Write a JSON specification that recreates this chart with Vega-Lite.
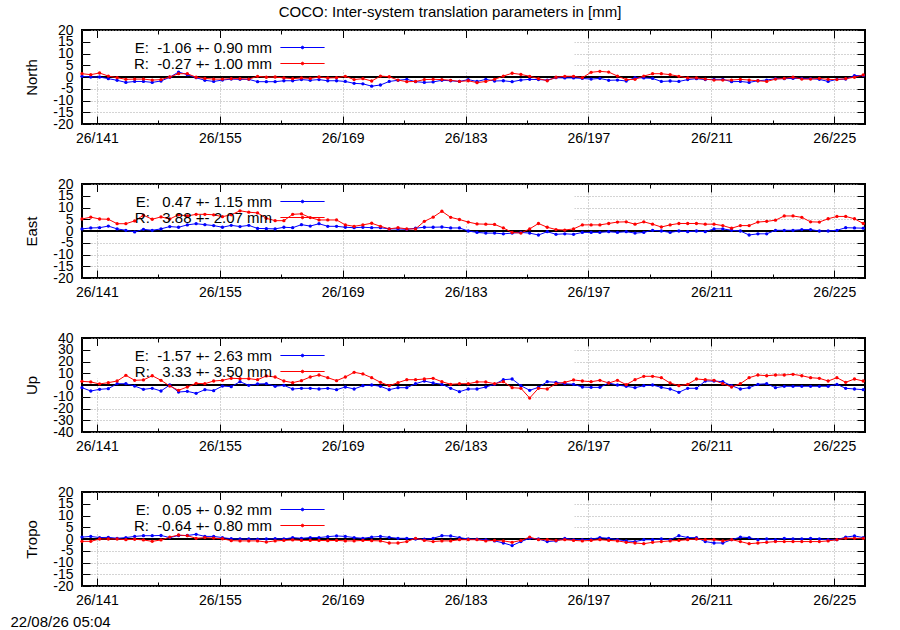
{
  "$schema": "https://vega.github.io/schema/vega-lite/v6.json",
  "padding": {"left": 9, "top": 5, "right": 5, "bottom": 5},
  "title": {"text": "COCO: Inter-system translation parameters in [mm]", "anchor": "middle", "offset": 2, "dx": 12, "fontSize": 15, "fontWeight": "normal", "font": "Liberation Sans", "color": "black"},
  "data": {"values": [
    {"d":139.3,"nE":0.3,"nR":1.4,"eE":0.9,"eR":5.1,"uE":-2.3,"uR":3.1,"tE":0.8,"tR":-1.0},
    {"d":140.3,"nE":0,"nR":1.0,"eE":1.3,"eR":5.9,"uE":-5.1,"uR":2.6,"tE":1.1,"tR":-1.0},
    {"d":141.3,"nE":0,"nR":1.7,"eE":1.4,"eR":5.1,"uE":-3.7,"uR":0.9,"tE":0.6,"tR":0},
    {"d":142.3,"nE":-0.7,"nR":0.4,"eE":2.1,"eR":5.0,"uE":-3.1,"uR":2.0,"tE":0.7,"tR":0},
    {"d":143.3,"nE":-1.4,"nR":-0.3,"eE":0.9,"eR":3.1,"uE":1.1,"uR":3.4,"tE":0.3,"tR":0},
    {"d":144.3,"nE":-2.3,"nR":-1.0,"eE":0.3,"eR":3.1,"uE":1.1,"uR":8.2,"tE":0.6,"tR":-0.3},
    {"d":145.3,"nE":-1.9,"nR":-0.9,"eE":-0.4,"eR":4.3,"uE":-0.9,"uR":4.0,"tE":1.1,"tR":-0.1},
    {"d":146.3,"nE":-1.9,"nR":-0.9,"eE":0.7,"eR":6.7,"uE":-3.7,"uR":4.3,"tE":1.4,"tR":-0.4},
    {"d":147.3,"nE":-2.3,"nR":-1.3,"eE":0.3,"eR":5.0,"uE":-2.8,"uR":7.9,"tE":1.4,"tR":-1.0},
    {"d":148.3,"nE":-1.7,"nR":-1.1,"eE":0.9,"eR":6.0,"uE":-5.1,"uR":4.0,"tE":1.5,"tR":-0.4},
    {"d":149.3,"nE":-0.1,"nR":0,"eE":1.9,"eR":5.1,"uE":0,"uR":-0.9,"tE":0.6,"tR":0.8},
    {"d":150.3,"nE":2.1,"nR":1.4,"eE":1.6,"eR":6.9,"uE":-6.0,"uR":-4.5,"tE":1.5,"tR":1.7},
    {"d":151.3,"nE":1.0,"nR":1.4,"eE":2.6,"eR":6.4,"uE":-5.4,"uR":-1.7,"tE":1.5,"tR":1.4},
    {"d":152.3,"nE":-0.3,"nR":-0.1,"eE":3.1,"eR":7.1,"uE":-7.1,"uR":1.4,"tE":2.0,"tR":0.3},
    {"d":153.3,"nE":-1.4,"nR":-0.6,"eE":2.7,"eR":7.1,"uE":-4.0,"uR":1.1,"tE":1.1,"tR":0.6},
    {"d":154.3,"nE":-1.9,"nR":-0.9,"eE":2.3,"eR":6.9,"uE":-4.8,"uR":3.4,"tE":1.1,"tR":0.4},
    {"d":155.3,"nE":-1.3,"nR":-0.9,"eE":1.6,"eR":6.1,"uE":-0.9,"uR":4.0,"tE":0.6,"tR":0.1},
    {"d":156.3,"nE":-0.9,"nR":-0.7,"eE":2.4,"eR":6.9,"uE":-1.4,"uR":5.7,"tE":0.1,"tR":-0.7},
    {"d":157.3,"nE":-1.0,"nR":-0.7,"eE":1.9,"eR":8.6,"uE":2.8,"uR":5.4,"tE":0,"tR":-0.8},
    {"d":158.3,"nE":-1.0,"nR":-0.9,"eE":2.4,"eR":8.0,"uE":-0.3,"uR":5.4,"tE":0,"tR":-0.8},
    {"d":159.3,"nE":-2.0,"nR":0.3,"eE":1.1,"eR":7.7,"uE":0.9,"uR":4.5,"tE":-0.1,"tR":-0.8},
    {"d":160.3,"nE":-2.0,"nR":-0.1,"eE":1.0,"eR":5.4,"uE":1.1,"uR":7.7,"tE":0,"tR":-1.3},
    {"d":161.3,"nE":-2.0,"nR":0,"eE":0.9,"eR":4.4,"uE":-1.1,"uR":6.8,"tE":0.1,"tR":-0.8},
    {"d":162.3,"nE":-1.6,"nR":-0.4,"eE":1.6,"eR":4.4,"uE":-0.3,"uR":3.4,"tE":0,"tR":-0.6},
    {"d":163.3,"nE":-1.6,"nR":-0.7,"eE":1.4,"eR":7.1,"uE":-3.4,"uR":2.0,"tE":0.6,"tR":-0.4},
    {"d":164.3,"nE":-1.1,"nR":-0.4,"eE":2.7,"eR":7.3,"uE":-2.8,"uR":3.7,"tE":0.3,"tR":-0.6},
    {"d":165.3,"nE":-1.4,"nR":-0.6,"eE":2.1,"eR":5.7,"uE":-2.8,"uR":6.8,"tE":0.6,"tR":-0.6},
    {"d":166.3,"nE":-1.1,"nR":0,"eE":3.1,"eR":4.7,"uE":-3.4,"uR":8.5,"tE":0.6,"tR":-0.6},
    {"d":167.3,"nE":-1.6,"nR":-0.4,"eE":2.0,"eR":4.7,"uE":-2.8,"uR":6.2,"tE":1.0,"tR":-0.7},
    {"d":168.3,"nE":-1.6,"nR":-0.3,"eE":2.0,"eR":4.7,"uE":-4.0,"uR":3.7,"tE":1.3,"tR":-0.6},
    {"d":169.3,"nE":-1.9,"nR":0.3,"eE":1.6,"eR":2.6,"uE":-1.7,"uR":6.8,"tE":1.1,"tR":-0.8},
    {"d":170.3,"nE":-2.7,"nR":-1.1,"eE":1.4,"eR":2.0,"uE":-3.4,"uR":10.8,"tE":0.6,"tR":-0.8},
    {"d":171.3,"nE":-2.9,"nR":-0.7,"eE":1.6,"eR":2.6,"uE":-0.6,"uR":9.4,"tE":0.3,"tR":-0.6},
    {"d":172.3,"nE":-3.9,"nR":-1.7,"eE":1.4,"eR":3.3,"uE":0,"uR":6.2,"tE":0.8,"tR":-0.7},
    {"d":173.3,"nE":-3.4,"nR":0.4,"eE":1.4,"eR":2.0,"uE":-1.1,"uR":2.3,"tE":1.1,"tR":-0.8},
    {"d":174.3,"nE":-1.9,"nR":0.1,"eE":0.9,"eR":0.9,"uE":-4.0,"uR":-0.6,"tE":0.7,"tR":-1.7},
    {"d":175.3,"nE":-1.4,"nR":-1.3,"eE":0.9,"eR":1.4,"uE":-2.3,"uR":2.0,"tE":0.3,"tR":-1.7},
    {"d":176.3,"nE":-1.0,"nR":-2.0,"eE":0.7,"eR":0.9,"uE":-2.3,"uR":4.5,"tE":0.3,"tR":-1.1},
    {"d":177.3,"nE":-2.0,"nR":-1.9,"eE":1.2,"eR":0.9,"uE":1.1,"uR":4.5,"tE":0,"tR":0.3},
    {"d":178.3,"nE":-2.3,"nR":-1.1,"eE":1.6,"eR":4.1,"uE":3.4,"uR":5.1,"tE":-0.1,"tR":-0.6},
    {"d":179.3,"nE":-2.1,"nR":-1.0,"eE":1.6,"eR":5.9,"uE":1.7,"uR":5.7,"tE":0.3,"tR":-1.1},
    {"d":180.3,"nE":-1.4,"nR":-1.1,"eE":1.7,"eR":8.4,"uE":0.6,"uR":2.8,"tE":1.4,"tR":-0.8},
    {"d":181.3,"nE":-1.6,"nR":-1.4,"eE":1.3,"eR":5.8,"uE":-2.8,"uR":0.6,"tE":1.3,"tR":-0.8},
    {"d":182.3,"nE":-1.9,"nR":-1.9,"eE":1.3,"eR":4.9,"uE":-5.7,"uR":1.1,"tE":0.6,"tR":-0.3},
    {"d":183.3,"nE":-1.1,"nR":-1.6,"eE":0,"eR":3.8,"uE":-3.4,"uR":1.1,"tE":0,"tR":-0.3},
    {"d":184.3,"nE":-1.9,"nR":-2.4,"eE":-0.6,"eR":3.0,"uE":-3.4,"uR":2.6,"tE":-0.1,"tR":-0.3},
    {"d":185.3,"nE":-1.0,"nR":-1.9,"eE":-0.9,"eR":2.9,"uE":-1.7,"uR":2.6,"tE":-0.3,"tR":-0.8},
    {"d":186.3,"nE":-1.7,"nR":-1.0,"eE":-0.9,"eR":2.8,"uE":0.6,"uR":1.1,"tE":-0.8,"tR":-0.6},
    {"d":187.3,"nE":-1.6,"nR":0.4,"eE":-1.2,"eR":1.3,"uE":4.5,"uR":2.8,"tE":-1.7,"tR":-0.8},
    {"d":188.3,"nE":-2.0,"nR":1.6,"eE":-0.9,"eR":-0.6,"uE":5.1,"uR":-2.3,"tE":-2.8,"tR":-1.4},
    {"d":189.3,"nE":-1.3,"nR":1.1,"eE":-0.6,"eR":-0.9,"uE":-0.6,"uR":-2.8,"tE":-1.1,"tR":-0.6},
    {"d":190.3,"nE":-1.0,"nR":0.3,"eE":-0.9,"eR":0.9,"uE":-4.5,"uR":-11.1,"tE":0.3,"tR":0.8},
    {"d":191.3,"nE":-1.1,"nR":-0.7,"eE":-1.7,"eR":3.2,"uE":-2.0,"uR":-2.8,"tE":0,"tR":-0.3},
    {"d":192.3,"nE":-1.3,"nR":-1.6,"eE":-0.3,"eR":1.6,"uE":2.8,"uR":-3.4,"tE":-1.1,"tR":-0.3},
    {"d":193.3,"nE":-0.3,"nR":-0.1,"eE":-1.4,"eR":0.6,"uE":2.3,"uR":1.1,"tE":-0.8,"tR":-0.6},
    {"d":194.3,"nE":-0.4,"nR":0.3,"eE":-1.2,"eR":0.4,"uE":1.1,"uR":2.3,"tE":0.3,"tR":-0.3},
    {"d":195.3,"nE":-0.4,"nR":0.3,"eE":-1.4,"eR":0.9,"uE":0.6,"uR":4.3,"tE":-0.3,"tR":-0.6},
    {"d":196.3,"nE":-0.6,"nR":-0.3,"eE":-0.6,"eR":2.6,"uE":-1.7,"uR":3.4,"tE":-0.3,"tR":-0.8},
    {"d":197.3,"nE":-0.9,"nR":2.0,"eE":-0.6,"eR":2.6,"uE":-2.0,"uR":2.8,"tE":-0.1,"tR":-0.6},
    {"d":198.3,"nE":-0.6,"nR":2.4,"eE":-0.6,"eR":2.6,"uE":-2.0,"uR":4.0,"tE":0.6,"tR":-0.3},
    {"d":199.3,"nE":-1.4,"nR":2.1,"eE":-0.3,"eR":3.2,"uE":1.7,"uR":1.7,"tE":0.3,"tR":-0.6},
    {"d":200.3,"nE":-1.3,"nR":0.4,"eE":-0.6,"eR":3.8,"uE":0,"uR":4.0,"tE":-0.3,"tR":-0.8},
    {"d":201.3,"nE":-1.7,"nR":-1.1,"eE":-0.3,"eR":3.9,"uE":-1.1,"uR":0.3,"tE":-0.8,"tR":-1.4},
    {"d":202.3,"nE":-0.3,"nR":-1.0,"eE":-0.9,"eR":2.9,"uE":-2.3,"uR":4.5,"tE":-1.1,"tR":-1.7},
    {"d":203.3,"nE":-0.4,"nR":0.4,"eE":-0.6,"eR":3.9,"uE":-0.6,"uR":7.4,"tE":-0.3,"tR":-2.0},
    {"d":204.3,"nE":-0.6,"nR":1.4,"eE":0.3,"eR":2.9,"uE":0,"uR":7.4,"tE":-0.3,"tR":-1.4},
    {"d":205.3,"nE":-1.9,"nR":1.4,"eE":0,"eR":1.7,"uE":-2.0,"uR":6.2,"tE":0,"tR":-1.1},
    {"d":206.3,"nE":-1.7,"nR":1.0,"eE":-0.6,"eR":2.6,"uE":-3.4,"uR":1.7,"tE":-0.3,"tR":-0.8},
    {"d":207.3,"nE":-1.9,"nR":0.3,"eE":0,"eR":3.2,"uE":-6.2,"uR":-0.6,"tE":1.4,"tR":-0.6},
    {"d":208.3,"nE":-1.1,"nR":-0.4,"eE":-0.3,"eR":3.2,"uE":-2.8,"uR":0.6,"tE":0.6,"tR":-0.3},
    {"d":209.3,"nE":-0.7,"nR":-0.4,"eE":0,"eR":3.2,"uE":-2.8,"uR":5.1,"tE":0.6,"tR":0},
    {"d":210.3,"nE":-1.1,"nR":-0.9,"eE":-0.3,"eR":2.9,"uE":3.4,"uR":4.5,"tE":-1.1,"tR":-0.3},
    {"d":211.3,"nE":-1.0,"nR":-1.3,"eE":0.9,"eR":2.9,"uE":3.4,"uR":4.0,"tE":-1.7,"tR":-0.3},
    {"d":212.3,"nE":-1.0,"nR":-1.3,"eE":0.9,"eR":2.3,"uE":2.8,"uR":1.1,"tE":-1.7,"tR":-0.8},
    {"d":213.3,"nE":-2.0,"nR":-1.3,"eE":0.3,"eR":1.2,"uE":-0.6,"uR":-1.7,"tE":-0.3,"tR":-0.3},
    {"d":214.3,"nE":-1.9,"nR":-1.0,"eE":0,"eR":2.3,"uE":-3.4,"uR":1.1,"tE":0.8,"tR":-1.1},
    {"d":215.3,"nE":-2.3,"nR":-1.3,"eE":-1.7,"eR":2.3,"uE":-2.3,"uR":6.2,"tE":0.6,"tR":-2.0},
    {"d":216.3,"nE":-1.6,"nR":-1.6,"eE":-1.2,"eR":3.8,"uE":0.6,"uR":8.5,"tE":-0.3,"tR":-1.7},
    {"d":217.3,"nE":-1.3,"nR":-1.9,"eE":-1.2,"eR":4.1,"uE":1.1,"uR":7.9,"tE":0,"tR":-1.4},
    {"d":218.3,"nE":-0.7,"nR":-0.9,"eE":0.3,"eR":4.6,"uE":-2.3,"uR":8.5,"tE":-0.3,"tR":-1.1},
    {"d":219.3,"nE":-0.7,"nR":-0.6,"eE":0.3,"eR":6.4,"uE":-1.1,"uR":8.5,"tE":0.3,"tR":-1.1},
    {"d":220.3,"nE":-0.6,"nR":-0.1,"eE":0.3,"eR":6.4,"uE":-1.1,"uR":9.1,"tE":0,"tR":-1.1},
    {"d":221.3,"nE":-0.6,"nR":-0.9,"eE":0.6,"eR":5.8,"uE":-1.1,"uR":7.9,"tE":0,"tR":-1.1},
    {"d":222.3,"nE":-0.7,"nR":-0.9,"eE":0.6,"eR":3.9,"uE":-1.1,"uR":6.2,"tE":0.3,"tR":-1.1},
    {"d":223.3,"nE":-1.0,"nR":-0.6,"eE":0,"eR":3.8,"uE":-1.1,"uR":5.7,"tE":0,"tR":-1.1},
    {"d":224.3,"nE":-1.9,"nR":-1.0,"eE":0,"eR":5.2,"uE":-1.1,"uR":3.4,"tE":-0.3,"tR":-0.8},
    {"d":225.3,"nE":-1.0,"nR":-1.1,"eE":0.3,"eR":6.2,"uE":0.6,"uR":6.2,"tE":-0.3,"tR":-0.3},
    {"d":226.3,"nE":-0.9,"nR":-0.7,"eE":1.4,"eR":6.2,"uE":-2.8,"uR":2.3,"tE":0.8,"tR":0.3},
    {"d":227.3,"nE":0.6,"nR":-0.1,"eE":1.3,"eR":5.2,"uE":-3.4,"uR":5.1,"tE":1.3,"tR":0.3},
    {"d":228.3,"nE":0.6,"nR":0.9,"eE":1.2,"eR":3.2,"uE":-4.0,"uR":3.4,"tE":0.6,"tR":0.3}
  ]},
  "bounds": "flush",
  "spacing": 60,
  "vconcat": [
    {
      "width": 783, "height": 94,
      "layer": [
        {
          "data": {"values": [{}]},
          "mark": {"type": "rect", "color": "white"},
          "encoding": {
            "x": {"datum": 140.3, "type": "quantitative", "scale": {"domain": [139.3, 228.5], "nice": false, "zero": false},
                  "axis": {"orient": "top", "values": [141,148,155,162,169,176,183,190,197,204,211,218,225], "labels": false, "grid": false, "title": null,
                           "tickSize": {"condition": {"test": "(datum.value - 141) % 14 == 0", "value": -8}, "value": -4}}},
            "x2": {"datum": 195.4},
            "y": {"datum": 2.8, "type": "quantitative", "scale": {"domain": [-20, 20], "nice": false, "zero": false},
                  "axis": {"orient": "right", "values": [-20,-15,-10,-5,0,5,10,15,20], "labels": false, "grid": false, "title": null, "tickSize": -8}},
            "y2": {"datum": 16.6}
          }
        },
        {
          "data": {"values": [{}]},
          "mark": {"type": "rule", "color": "black", "strokeWidth": 2},
          "encoding": {"y": {"datum": 0, "type": "quantitative", "axis": null}}
        },
        {
          "transform": [{"fold": ["nE", "nR"], "as": ["s", "v"]}],
          "mark": {"type": "line", "strokeWidth": 1, "point": {"filled": true, "size": 11}},
          "encoding": {
            "x": {"field": "d", "type": "quantitative",
                  "axis": {"orient": "bottom", "values": [141,148,155,162,169,176,183,190,197,204,211,218,225], "title": null,
                           "labelExpr": "(datum.value - 141) % 14 == 0 ? '26/' + datum.value : ''", "labelPadding": 15,
                           "tickSize": {"condition": {"test": "(datum.value - 141) % 14 == 0", "value": -8}, "value": -4},
                           "grid": true, "gridOpacity": {"condition": {"test": "(datum.value - 141) % 14 == 0", "value": 1}, "value": 0}}},
            "y": {"field": "v", "type": "quantitative",
                  "axis": {"orient": "left", "values": [-20,-15,-10,-5,0,5,10,15,20], "labelExpr": "'' + datum.value", "tickSize": -8, "labelPadding": 17, "grid": true,
                           "title": "North", "titleX": -51, "titleY": 47, "titleAngle": 270, "titleAlign": "center", "titleBaseline": "middle"}},
            "color": {"field": "s", "type": "nominal", "scale": {"domain": ["nE", "nR"], "range": ["#0000ff", "#ff0000"]},
                      "legend": {"title": null, "legendX": 213, "legendY": 10,
                                 "labelExpr": "datum.value == 'nE' ? 'E:\u00a0\u00a0-1.06 +- 0.90 mm' : 'R:\u00a0\u00a0-0.27 +- 1.00 mm'"}}
          }
        }
      ],
      "resolve": {"axis": {"x": "independent", "y": "independent"}}
    },
    {
      "width": 783, "height": 94,
      "layer": [
        {
          "data": {"values": [{}]},
          "mark": {"type": "rect", "color": "white"},
          "encoding": {
            "x": {"datum": 140.3, "type": "quantitative", "scale": {"domain": [139.3, 228.5], "nice": false, "zero": false},
                  "axis": {"orient": "top", "values": [141,148,155,162,169,176,183,190,197,204,211,218,225], "labels": false, "grid": false, "title": null,
                           "tickSize": {"condition": {"test": "(datum.value - 141) % 14 == 0", "value": -8}, "value": -4}}},
            "x2": {"datum": 195.4},
            "y": {"datum": 2.8, "type": "quantitative", "scale": {"domain": [-20, 20], "nice": false, "zero": false},
                  "axis": {"orient": "right", "values": [-20,-15,-10,-5,0,5,10,15,20], "labels": false, "grid": false, "title": null, "tickSize": -8}},
            "y2": {"datum": 16.6}
          }
        },
        {
          "data": {"values": [{}]},
          "mark": {"type": "rule", "color": "black", "strokeWidth": 2},
          "encoding": {"y": {"datum": 0, "type": "quantitative", "axis": null}}
        },
        {
          "transform": [{"fold": ["eE", "eR"], "as": ["s", "v"]}],
          "mark": {"type": "line", "strokeWidth": 1, "point": {"filled": true, "size": 11}},
          "encoding": {
            "x": {"field": "d", "type": "quantitative",
                  "axis": {"orient": "bottom", "values": [141,148,155,162,169,176,183,190,197,204,211,218,225], "title": null,
                           "labelExpr": "(datum.value - 141) % 14 == 0 ? '26/' + datum.value : ''", "labelPadding": 15,
                           "tickSize": {"condition": {"test": "(datum.value - 141) % 14 == 0", "value": -8}, "value": -4},
                           "grid": true, "gridOpacity": {"condition": {"test": "(datum.value - 141) % 14 == 0", "value": 1}, "value": 0}}},
            "y": {"field": "v", "type": "quantitative",
                  "axis": {"orient": "left", "values": [-20,-15,-10,-5,0,5,10,15,20], "labelExpr": "'' + datum.value", "tickSize": -8, "labelPadding": 17, "grid": true,
                           "title": "East", "titleX": -51, "titleY": 47, "titleAngle": 270, "titleAlign": "center", "titleBaseline": "middle"}},
            "color": {"field": "s", "type": "nominal", "scale": {"domain": ["eE", "eR"], "range": ["#0000ff", "#ff0000"]},
                      "legend": {"title": null, "legendX": 213, "legendY": 10,
                                 "labelExpr": "datum.value == 'eE' ? 'E:\u00a0\u00a0\u00a00.47 +- 1.15 mm' : 'R:\u00a0\u00a0\u00a03.88 +- 2.07 mm'"}}
          }
        }
      ],
      "resolve": {"axis": {"x": "independent", "y": "independent"}}
    },
    {
      "width": 783, "height": 94,
      "layer": [
        {
          "data": {"values": [{}]},
          "mark": {"type": "rect", "color": "white"},
          "encoding": {
            "x": {"datum": 140.3, "type": "quantitative", "scale": {"domain": [139.3, 228.5], "nice": false, "zero": false},
                  "axis": {"orient": "top", "values": [141,148,155,162,169,176,183,190,197,204,211,218,225], "labels": false, "grid": false, "title": null,
                           "tickSize": {"condition": {"test": "(datum.value - 141) % 14 == 0", "value": -8}, "value": -4}}},
            "x2": {"datum": 195.4},
            "y": {"datum": 5.6, "type": "quantitative", "scale": {"domain": [-40, 40], "nice": false, "zero": false},
                  "axis": {"orient": "right", "values": [-40,-30,-20,-10,0,10,20,30,40], "labels": false, "grid": false, "title": null, "tickSize": -8}},
            "y2": {"datum": 33.2}
          }
        },
        {
          "data": {"values": [{}]},
          "mark": {"type": "rule", "color": "black", "strokeWidth": 2},
          "encoding": {"y": {"datum": 0, "type": "quantitative", "axis": null}}
        },
        {
          "transform": [{"fold": ["uE", "uR"], "as": ["s", "v"]}],
          "mark": {"type": "line", "strokeWidth": 1, "point": {"filled": true, "size": 11}},
          "encoding": {
            "x": {"field": "d", "type": "quantitative",
                  "axis": {"orient": "bottom", "values": [141,148,155,162,169,176,183,190,197,204,211,218,225], "title": null,
                           "labelExpr": "(datum.value - 141) % 14 == 0 ? '26/' + datum.value : ''", "labelPadding": 15,
                           "tickSize": {"condition": {"test": "(datum.value - 141) % 14 == 0", "value": -8}, "value": -4},
                           "grid": true, "gridOpacity": {"condition": {"test": "(datum.value - 141) % 14 == 0", "value": 1}, "value": 0}}},
            "y": {"field": "v", "type": "quantitative",
                  "axis": {"orient": "left", "values": [-40,-30,-20,-10,0,10,20,30,40], "labelExpr": "'' + datum.value", "tickSize": -8, "labelPadding": 17, "grid": true,
                           "title": "Up", "titleX": -51, "titleY": 47, "titleAngle": 270, "titleAlign": "center", "titleBaseline": "middle"}},
            "color": {"field": "s", "type": "nominal", "scale": {"domain": ["uE", "uR"], "range": ["#0000ff", "#ff0000"]},
                      "legend": {"title": null, "legendX": 213, "legendY": 10,
                                 "labelExpr": "datum.value == 'uE' ? 'E:\u00a0\u00a0-1.57 +- 2.63 mm' : 'R:\u00a0\u00a0\u00a03.33 +- 3.50 mm'"}}
          }
        }
      ],
      "resolve": {"axis": {"x": "independent", "y": "independent"}}
    },
    {
      "width": 783, "height": 94,
      "layer": [
        {
          "data": {"values": [{}]},
          "mark": {"type": "rect", "color": "white"},
          "encoding": {
            "x": {"datum": 140.3, "type": "quantitative", "scale": {"domain": [139.3, 228.5], "nice": false, "zero": false},
                  "axis": {"orient": "top", "values": [141,148,155,162,169,176,183,190,197,204,211,218,225], "labels": false, "grid": false, "title": null,
                           "tickSize": {"condition": {"test": "(datum.value - 141) % 14 == 0", "value": -8}, "value": -4}}},
            "x2": {"datum": 195.4},
            "y": {"datum": 2.8, "type": "quantitative", "scale": {"domain": [-20, 20], "nice": false, "zero": false},
                  "axis": {"orient": "right", "values": [-20,-15,-10,-5,0,5,10,15,20], "labels": false, "grid": false, "title": null, "tickSize": -8}},
            "y2": {"datum": 16.6}
          }
        },
        {
          "data": {"values": [{}]},
          "mark": {"type": "rule", "color": "black", "strokeWidth": 2},
          "encoding": {"y": {"datum": 0, "type": "quantitative", "axis": null}}
        },
        {
          "transform": [{"fold": ["tE", "tR"], "as": ["s", "v"]}],
          "mark": {"type": "line", "strokeWidth": 1, "point": {"filled": true, "size": 11}},
          "encoding": {
            "x": {"field": "d", "type": "quantitative",
                  "axis": {"orient": "bottom", "values": [141,148,155,162,169,176,183,190,197,204,211,218,225],
                           "labelExpr": "(datum.value - 141) % 14 == 0 ? '26/' + datum.value : ''", "labelPadding": 15,
                           "tickSize": {"condition": {"test": "(datum.value - 141) % 14 == 0", "value": -8}, "value": -4},
                           "grid": true, "gridOpacity": {"condition": {"test": "(datum.value - 141) % 14 == 0", "value": 1}, "value": 0},
                           "title": "22/08/26 05:04", "titleX": -72, "titleY": 35, "titleAlign": "left", "titleBaseline": "middle", "titleAngle": 0}},
            "y": {"field": "v", "type": "quantitative",
                  "axis": {"orient": "left", "values": [-20,-15,-10,-5,0,5,10,15,20], "labelExpr": "'' + datum.value", "tickSize": -8, "labelPadding": 17, "grid": true,
                           "title": "Tropo", "titleX": -51, "titleY": 47, "titleAngle": 270, "titleAlign": "center", "titleBaseline": "middle"}},
            "color": {"field": "s", "type": "nominal", "scale": {"domain": ["tE", "tR"], "range": ["#0000ff", "#ff0000"]},
                      "legend": {"title": null, "legendX": 213, "legendY": 10,
                                 "labelExpr": "datum.value == 'tE' ? 'E:\u00a0\u00a0\u00a00.05 +- 0.92 mm' : 'R:\u00a0\u00a0-0.64 +- 0.80 mm'"}}
          }
        }
      ],
      "resolve": {"axis": {"x": "independent", "y": "independent"}}
    }
  ],
  "resolve": {"scale": {"x": "independent", "y": "independent", "color": "independent"}, "legend": {"color": "independent"}},
  "config": {
    "font": "Liberation Sans",
    "view": {"stroke": "black", "strokeWidth": 2},
    "axis": {"domain": false, "labelFont": "Liberation Sans", "labelFontSize": 14, "labelColor": "black", "labelOverlap": false, "labelFlush": false,
             "tickColor": "black", "tickWidth": 1,
             "gridColor": "#a8a8a8", "gridDash": [1, 2], "gridWidth": 1,
             "titleFont": "Liberation Sans", "titleFontSize": 15, "titleFontWeight": "normal", "titleColor": "black"},
    "legend": {"orient": "none", "padding": 0, "rowPadding": -7, "symbolType": "M-3.4,0H3.4M0.2,0A0.2,0.2,0,1,1,-0.2,0A0.2,0.2,0,1,1,0.2,0Z",
               "symbolSize": 169, "symbolStrokeWidth": 1, "labelAlign": "right", "labelOffset": -38, "labelFontSize": 15,
               "labelFont": "Liberation Sans", "labelColor": "black", "labelLimit": 0}
  }
}
